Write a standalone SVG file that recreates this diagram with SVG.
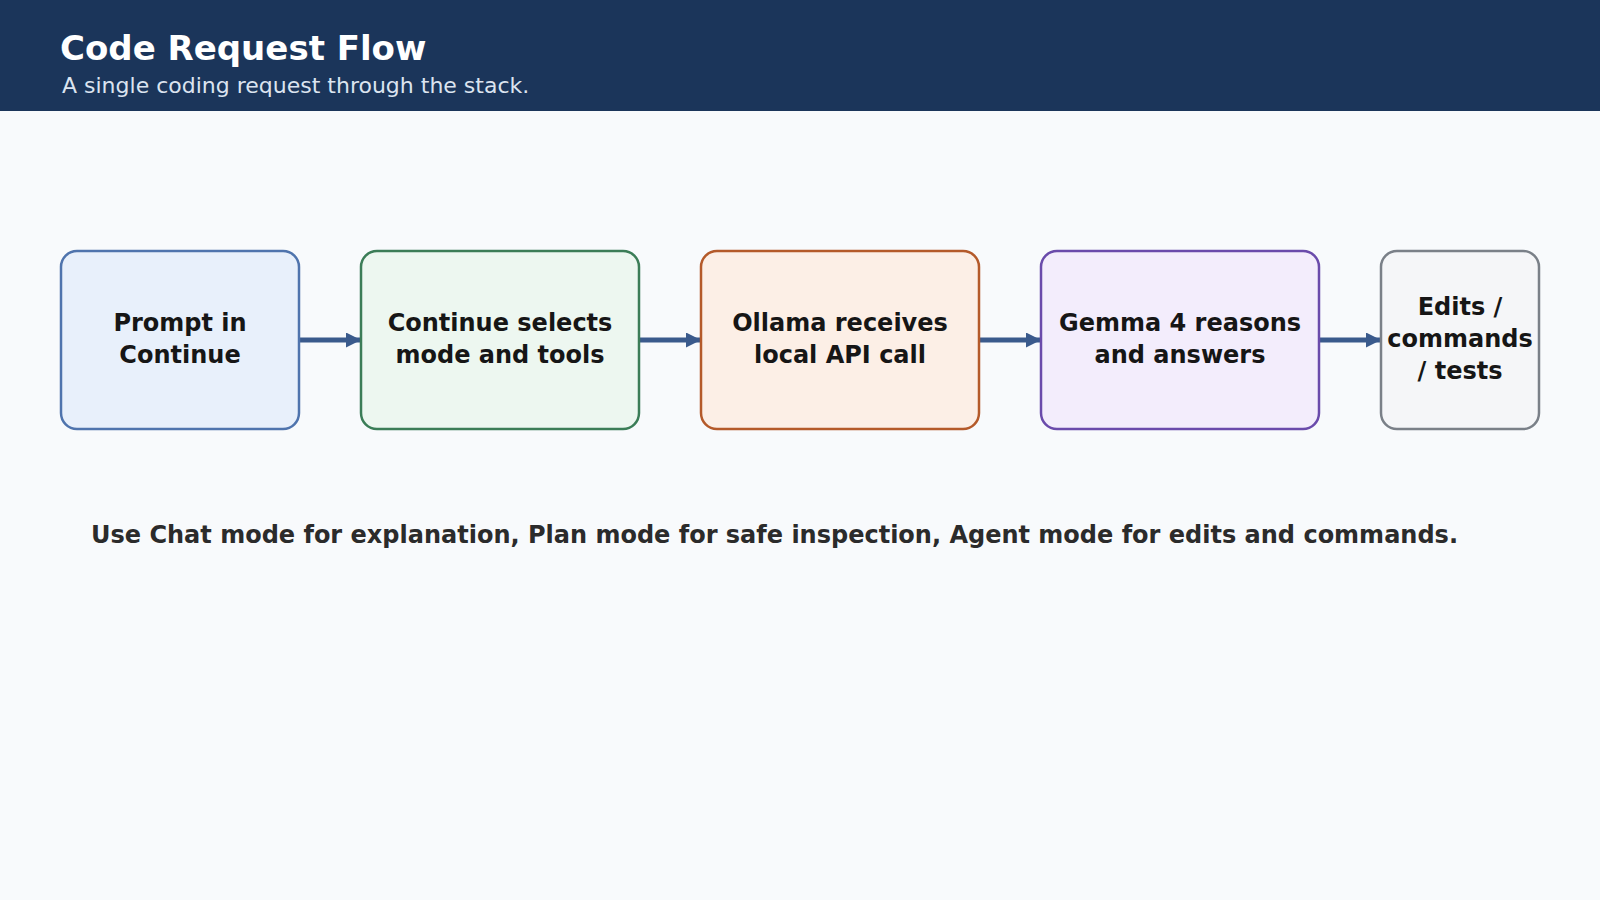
<svg xmlns="http://www.w3.org/2000/svg" width="1600" height="900" viewBox="0 0 1600 900">
<defs>
<style>
.title{font-family:"DejaVu Sans",sans-serif;font-weight:bold;font-size:34px;fill:#ffffff}
.sub{font-family:"DejaVu Sans",sans-serif;font-size:22px;fill:#dbe4f0}
.lbl{font-family:"DejaVu Sans",sans-serif;font-weight:bold;font-size:24px;fill:#161616;text-anchor:middle}
.note{font-family:"DejaVu Sans",sans-serif;font-weight:bold;font-size:24px;fill:#2b2b2b}
.box{stroke-width:2.5}
.edge{stroke:#3a5a8c;stroke-width:5;fill:none}
</style>
<marker id="ah" markerWidth="15" markerHeight="15" refX="15" refY="7.5" orient="auto" markerUnits="userSpaceOnUse">
<path d="M0,0 L15,7.5 L0,15 Z" fill="#3a5a8c"/>
</marker>
</defs>
<rect x="0" y="0" width="1600" height="900" fill="#f8fafc"/>
<g id="header">
<rect x="0" y="0" width="1600" height="111" fill="#1b355a"/>
<text class="title" x="60" y="60">Code Request Flow</text>
<text class="sub" x="62" y="93">A single coding request through the stack.</text>
</g>
<g id="connectors">
<line class="edge" x1="300" y1="340" x2="361" y2="340" marker-end="url(#ah)"/>
<line class="edge" x1="640" y1="340" x2="701" y2="340" marker-end="url(#ah)"/>
<line class="edge" x1="980" y1="340" x2="1041" y2="340" marker-end="url(#ah)"/>
<line class="edge" x1="1320" y1="340" x2="1381" y2="340" marker-end="url(#ah)"/>
</g>
<g id="n1">
<rect class="box" x="61" y="251" width="238" height="178" rx="16" fill="#e8f0fb" stroke="#4f74ad"/>
<text class="lbl" x="180" y="331">Prompt in</text>
<text class="lbl" x="180" y="363">Continue</text>
</g>
<g id="n2">
<rect class="box" x="361" y="251" width="278" height="178" rx="16" fill="#edf7f0" stroke="#3b7d57"/>
<text class="lbl" x="500" y="331">Continue selects</text>
<text class="lbl" x="500" y="363">mode and tools</text>
</g>
<g id="n3">
<rect class="box" x="701" y="251" width="278" height="178" rx="16" fill="#fcefe6" stroke="#b45a2a"/>
<text class="lbl" x="840" y="331">Ollama receives</text>
<text class="lbl" x="840" y="363">local API call</text>
</g>
<g id="n4">
<rect class="box" x="1041" y="251" width="278" height="178" rx="16" fill="#f3edfc" stroke="#6a4bab"/>
<text class="lbl" x="1180" y="331">Gemma 4 reasons</text>
<text class="lbl" x="1180" y="363">and answers</text>
</g>
<g id="n5">
<rect class="box" x="1381" y="251" width="158" height="178" rx="16" fill="#f5f6f8" stroke="#7a8088"/>
<text class="lbl" x="1460" y="315">Edits /</text>
<text class="lbl" x="1460" y="347">commands</text>
<text class="lbl" x="1460" y="379">/ tests</text>
</g>
<g id="note">
<text class="note" x="91" y="543">Use Chat mode for explanation, Plan mode for safe inspection, Agent mode for edits and commands.</text>
</g>
</svg>
